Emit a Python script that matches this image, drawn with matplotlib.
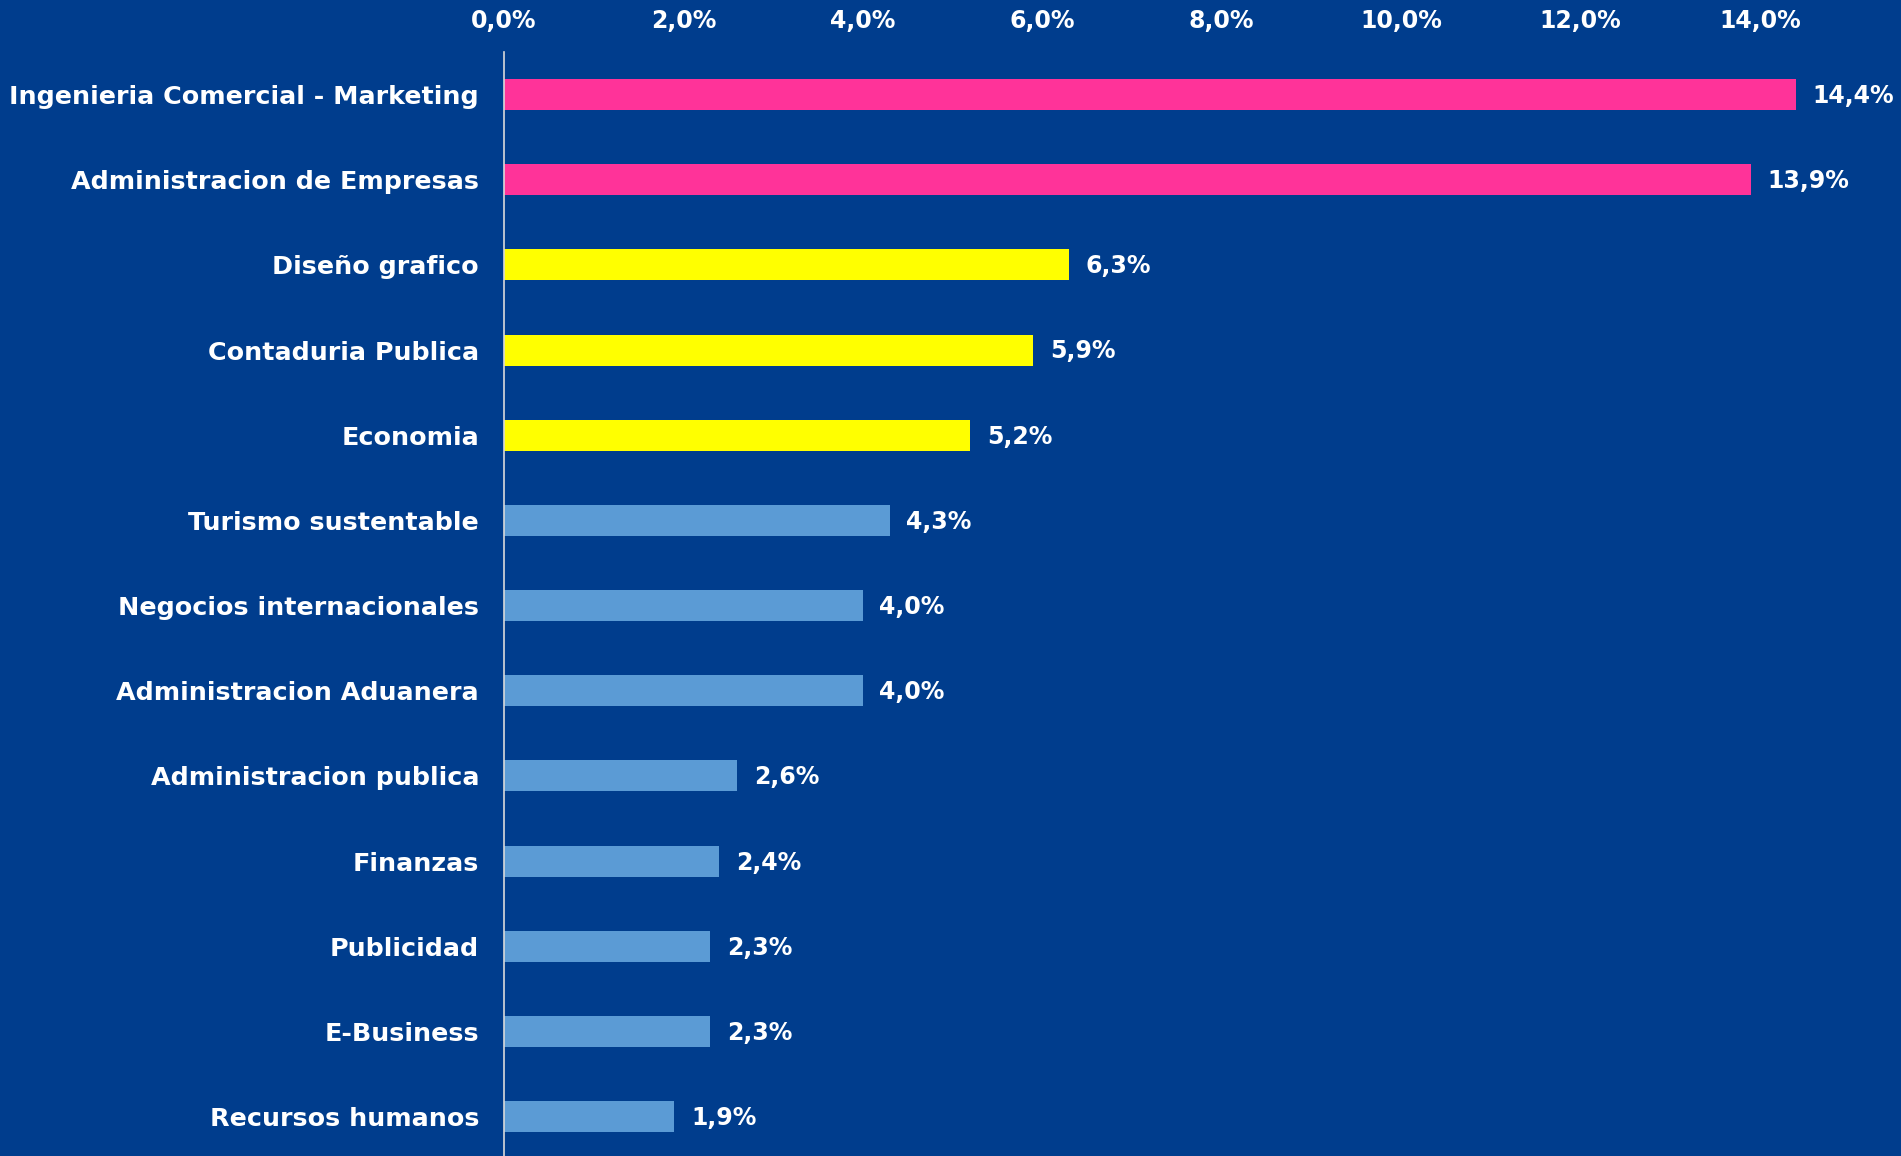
import matplotlib
matplotlib.use("Agg")
import matplotlib.pyplot as plt
from matplotlib.ticker import FuncFormatter

categories = [
    "Ingenieria Comercial - Marketing",
    "Administracion de Empresas",
    "Diseño grafico",
    "Contaduria Publica",
    "Economia",
    "Turismo sustentable",
    "Negocios internacionales",
    "Administracion Aduanera",
    "Administracion publica",
    "Finanzas",
    "Publicidad",
    "E-Business",
    "Recursos humanos",
]
values = [14.4, 13.9, 6.3, 5.9, 5.2, 4.3, 4.0, 4.0, 2.6, 2.4, 2.3, 2.3, 1.9]
bar_colors = ["#FF3399", "#FF3399", "#FFFF00", "#FFFF00", "#FFFF00"] + ["#5B9BD5"] * 8
x_ticks = [0, 2, 4, 6, 8, 10, 12, 14]

BG = "#003D8D"
W, H = 1901, 1156
fig = plt.figure(figsize=(W / 100, H / 100), dpi=100, facecolor=BG)
left = 504 / W
top = 1 - 52 / H
px_per_pct = 89.7
xmax = 15.5
width = xmax * px_per_pct / W
row = 85.17
ax_h = 13 * row / H
ax = fig.add_axes([left, top - ax_h, width, ax_h], facecolor=BG)

y = list(range(len(categories)))
ax.barh(y, values, height=0.365, color=bar_colors, zorder=2)
ax.set_ylim(len(categories) - 0.5, -0.5)
ax.set_xlim(0, xmax)

ax.set_yticks(y)
ax.set_yticklabels(categories)
ax.set_xticks(x_ticks)
ax.xaxis.set_major_formatter(FuncFormatter(lambda v, p: f"{v:.1f}%".replace(".", ",")))
ax.xaxis.tick_top()

for lab in ax.get_yticklabels():
    lab.set_fontsize(18.3)
    lab.set_fontweight("bold")
    lab.set_color("white")
for lab in ax.get_xticklabels():
    lab.set_fontsize(17)
    lab.set_fontweight("bold")
    lab.set_color("white")

ax.tick_params(axis="y", length=0, pad=18)
ax.tick_params(axis="x", length=0, pad=14)

for s in ["top", "right", "bottom"]:
    ax.spines[s].set_visible(False)
ax.spines["left"].set_color("#D9D9D9")
ax.spines["left"].set_linewidth(1.2)

for yi, v in zip(y, values):
    ax.annotate(f"{v:.1f}%".replace(".", ","), xy=(v, yi), xytext=(12, -1),
                textcoords="offset points", va="center", ha="left",
                fontsize=17, fontweight="bold", color="white", clip_on=False)

fig.savefig("out.png", dpi=100, facecolor=BG)
